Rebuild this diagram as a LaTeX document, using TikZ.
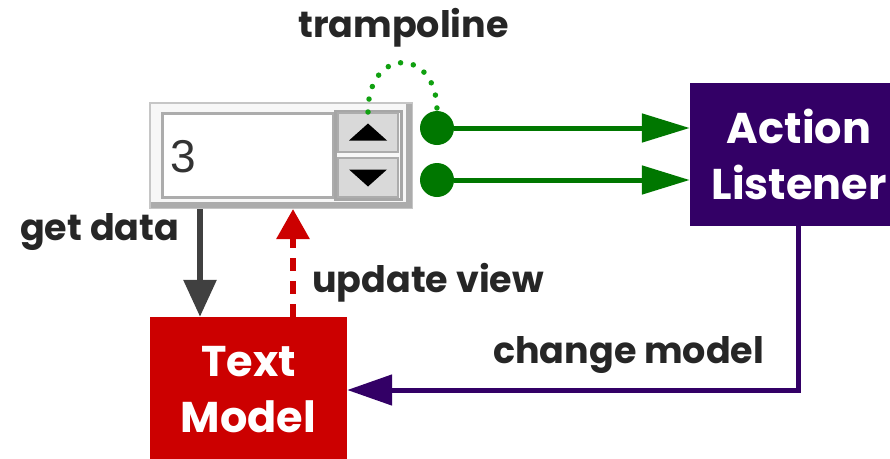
\documentclass[tikz,border=0pt]{standalone}
\usepackage{fontspec}
\setmainfont{Poppins}
\newfontfamily\digitfont{Liberation Sans}
\usetikzlibrary{arrows.meta,calc}
\definecolor{gr}{HTML}{007700}
\definecolor{dotgr}{HTML}{10A010}
\definecolor{purp}{HTML}{330066}
\definecolor{redm}{HTML}{CC0000}
\definecolor{dgray}{HTML}{404040}
\tikzset{
  lbl/.style={font=\fontsize{36.5}{42}\selectfont\bfseries, text=black!85, inner sep=0},
  boxtxt/.style={font=\fontsize{43}{56}\selectfont\bfseries, text=white, align=center, inner sep=0},
  greenln/.style={draw=gr, line width=5pt, -{Triangle[length=48pt,width=28pt]}},
  getln/.style={draw=dgray, line width=6pt, -{Triangle[length=37pt,width=32pt]}},
  updln/.style={draw=redm, line width=6pt, dash pattern=on 13pt off 10pt, -{Triangle[length=30pt,width=32pt]}},
  purpln/.style={draw=purp, line width=5pt, -{Triangle[length=45pt,width=30pt]}},
  dotln/.style={draw=dotgr, line width=5.5pt, line cap=round, dash pattern=on 0pt off 13pt},
  knob/.style={circle, fill=gr, minimum size=34pt, inner sep=0},
  btn/.style={draw=gray!65, line width=2pt, fill=gray!30, minimum width=60pt, minimum height=39pt, inner sep=0},
}
\begin{document}
\begin{tikzpicture}[x=1pt,y=-1pt]
\useasboundingbox (0,0) rectangle (890,458);
% spinner widget
\node[draw=gray!45, line width=2pt, fill=gray!6, minimum width=262pt, minimum height=105pt, inner sep=0] (widget) at (281,155.5) {};
\draw[gray!65, line width=6pt] (151,205) -- (409,205) -- (409,104);
\node[draw=gray!65, line width=3pt, fill=white, minimum width=171pt, minimum height=84pt, inner sep=0] (field) at (247.5,155) {};
\node[anchor=base west, inner sep=0, font=\digitfont\fontsize{46}{50}\selectfont, text=black!80] (val) at (170,172) {3};
\draw[gray!70, line width=3pt] (335,111) rectangle (401,199);
\node[btn] (up) at (368,132.5) {};
\node[btn] (down) at (368,177.5) {};
\fill ($(up.center)+(-19,8)$) -- ($(up.center)+(19,8)$) -- ($(up.center)+(0,-9)$) -- cycle;
\fill ($(down.center)+(-19,-8)$) -- ($(down.center)+(19,-8)$) -- ($(down.center)+(0,9)$) -- cycle;
% knobs
\node[knob] (c1) at (437,128) {};
\node[knob] (c2) at (437,180) {};
% boxes
\node[fill=purp, minimum width=218pt, minimum height=143pt, inner sep=0] (listener) at (799,154.5) {};
\node[boxtxt] (lt) at (listener.center) {Action\\Listener};
\node[fill=redm, minimum width=197pt, minimum height=146pt, inner sep=0] (model) at (248.5,390) {};
\node[boxtxt] (mt) at (model.center) {Text\\Model};
% connectors
\coordinate (getx) at (200,0);
\coordinate (updx) at (293,0);
\coordinate (chx) at (798,0);
\draw[greenln] (c1.east) -- (c1 -| listener.west);
\draw[greenln] (c2.east) -- (c2 -| listener.west);
\draw[getln] (widget.south -| getx) -- (model.north -| getx);
\draw[updln] (model.north -| updx) -- (widget.south -| updx);
\draw[purpln] (listener.south -| chx) |- (model.east);
\draw[dotln] (up.north) .. controls ($(up.north)+(0,-66)$) and ($(c1.north)+(0,-64)$) .. (c1.north);
% labels
\node[lbl, anchor=base west] (ltramp) at (298,37) {trampoline};
\node[lbl, anchor=base west] (lget) at (20,240) {get data};
\node[lbl, anchor=base west] (lupd) at (312,292) {update view};
\node[lbl, anchor=base west] (lchg) at (493,363) {change model};
\end{tikzpicture}
\end{document}
